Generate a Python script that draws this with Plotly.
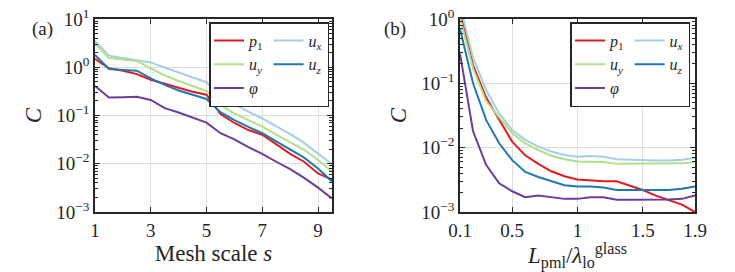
import plotly.graph_objects as go

# ---------------- data ----------------
s_vals = [1, 1.5, 2, 2.5, 3, 3.5, 4, 4.5, 5, 5.5, 6, 6.5, 7, 7.5, 8, 8.5, 9, 9.5]
a_p1 = [1.5, 0.95, 0.85, 0.72, 0.55, 0.45, 0.37, 0.31, 0.27, 0.107, 0.07, 0.05, 0.04, 0.025, 0.016, 0.011, 0.0063, 0.0047]
a_ux = [3.5, 1.74, 1.55, 1.41, 1.26, 0.98, 0.78, 0.62, 0.49, 0.245, 0.17, 0.12, 0.087, 0.06, 0.041, 0.027, 0.016, 0.0098]
a_uy = [3.1, 1.55, 1.45, 1.35, 0.95, 0.68, 0.52, 0.41, 0.32, 0.166, 0.11, 0.08, 0.059, 0.04, 0.028, 0.0195, 0.012, 0.0069]
a_uz = [1.8, 0.92, 0.88, 0.85, 0.59, 0.43, 0.33, 0.27, 0.22, 0.117, 0.08, 0.058, 0.043, 0.029, 0.02, 0.0134, 0.008, 0.0043]
a_phi = [0.41, 0.235, 0.24, 0.245, 0.21, 0.142, 0.115, 0.09, 0.071, 0.043, 0.032, 0.022, 0.016, 0.011, 0.0077, 0.0051, 0.0032, 0.0019]

L_vals = [0.1, 0.2, 0.3, 0.4, 0.5, 0.6, 0.7, 0.8, 0.9, 1.0, 1.1, 1.2, 1.3, 1.4, 1.5, 1.6, 1.7, 1.8, 1.9]
b_p1 = [1.4, 0.19, 0.06, 0.027, 0.0124, 0.0076, 0.0056, 0.0043, 0.0036, 0.0032, 0.0031, 0.003, 0.003, 0.0026, 0.0022, 0.0018, 0.00155, 0.0013, 0.001]
b_ux = [1.6, 0.25, 0.079, 0.034, 0.0188, 0.0132, 0.0104, 0.0087, 0.0077, 0.0072, 0.0074, 0.0072, 0.0066, 0.0065, 0.0063, 0.0063, 0.0063, 0.0065, 0.007]
b_uy = [1.05, 0.17, 0.053, 0.03, 0.0167, 0.0117, 0.0092, 0.0075, 0.0066, 0.0061, 0.006, 0.006, 0.0056, 0.0056, 0.0056, 0.0056, 0.0056, 0.0057, 0.006]
b_uz = [0.7, 0.1, 0.027, 0.0117, 0.0064, 0.0042, 0.0035, 0.003, 0.0026, 0.0025, 0.0025, 0.0024, 0.0022, 0.0022, 0.0022, 0.0022, 0.0022, 0.0023, 0.0025]
b_phi = [0.29, 0.018, 0.0054, 0.0028, 0.0021, 0.0017, 0.0018, 0.0017, 0.0016, 0.0016, 0.0017, 0.0017, 0.00155, 0.00155, 0.00155, 0.00155, 0.00157, 0.0016, 0.0018]

series_names = ["<i>p</i><sub>1</sub>", "<i>u<sub>x</sub></i>", "<i>u<sub>y</sub></i>",
                "<i>u<sub>z</sub></i>", "<i>φ</i>"]
series_colors = ["#e31a1c", "#a6cee3", "#b2df8a", "#1f78b4", "#6a3d9a"]
legend_columns = [1, 2, 1, 2, 1]

a_xticks = [1, 3, 5, 7, 9]
b_xticks = [0.1, 0.5, 1, 1.5, 1.9]
b_xticktext = ["0.1", "0.5", "1", "1.5", "1.9"]
a_yticks = [10, 1, 0.1, 0.01, 0.001]
a_yticktext = ["10<sup>1</sup>", "10<sup>0</sup>", "10<sup>−1</sup>", "10<sup>−2</sup>", "10<sup>−3</sup>"]
b_yticks = [1, 0.1, 0.01, 0.001]
b_yticktext = ["10<sup>0</sup>", "10<sup>−1</sup>", "10<sup>−2</sup>", "10<sup>−3</sup>"]

# ---------------- figure ----------------
W, H = 735, 272
FONT = "Liberation Serif"
FS = 19

fig = go.Figure()

a_series = [a_p1, a_ux, a_uy, a_uz, a_phi]
b_series = [b_p1, b_ux, b_uy, b_uz, b_phi]

for name, col, grp, ys in zip(series_names, series_colors, legend_columns, a_series):
    fig.add_trace(go.Scatter(x=s_vals, y=ys, mode="lines", name=name,
                             line=dict(color=col, width=2),
                             legendgroup=f"a{grp}", legend="legend",
                             xaxis="x", yaxis="y"))
for name, col, grp, ys in zip(series_names, series_colors, legend_columns, b_series):
    fig.add_trace(go.Scatter(x=L_vals, y=ys, mode="lines", name=name,
                             line=dict(color=col, width=2),
                             legendgroup=f"b{grp}", legend="legend2",
                             xaxis="x2", yaxis="y2"))

px = lambda v: v / W
py = lambda v: 1 - v / H

frame = dict(showline=True, linecolor="#262626", linewidth=1.5, mirror="ticks",
             ticks="inside", ticklen=5, tickcolor="#262626", tickwidth=1,
             showgrid=True, gridcolor="#dedede", gridwidth=1, zeroline=False,
             automargin=False,
             tickfont=dict(family=FONT, size=FS, color="#262626"))

ymin = dict(ticks="inside", ticklen=3, tickcolor="#262626", dtick="D1", showgrid=False)

leg = dict(xanchor="right", yanchor="top", orientation="h", bgcolor="white",
           bordercolor="#262626", borderwidth=1.5,
           font=dict(family=FONT, size=16, color="#262626"), tracegroupgap=0, itemwidth=30)

fig.update_layout(
    width=W, height=H, autosize=False,
    margin=dict(l=0, r=0, t=0, b=0, autoexpand=False),
    plot_bgcolor="white", paper_bgcolor="white",
    font=dict(family=FONT, size=FS, color="#262626"),
    xaxis=dict(domain=[px(95), px(332)], range=[1, 9.5], tickvals=a_xticks,
               title=dict(text="Mesh scale <i>s</i>", standoff=4), anchor="y", **frame),
    yaxis=dict(domain=[py(212), py(19)], type="log", range=[-3, 1],
               tickvals=a_yticks, ticktext=a_yticktext, minor=ymin,
               title=dict(text="<i>C</i>", standoff=8), anchor="x", **frame),
    xaxis2=dict(domain=[px(460), px(695)], range=[0.1, 1.9], tickvals=b_xticks,
                ticktext=b_xticktext,
                title=dict(text="<i>L</i><sub>pml</sub>/<i>λ</i><sub>lo</sub><sup>glass</sup>", standoff=0),
                anchor="y2", **frame),
    yaxis2=dict(domain=[py(212), py(19)], type="log", range=[-3, 0],
                tickvals=b_yticks, ticktext=b_yticktext, minor=ymin,
                title=dict(text="<i>C</i>", standoff=8), anchor="x2", **frame),
    legend=dict(x=px(329), y=py(22), **leg),
    legend2=dict(x=px(690), y=py(22), **leg),
    showlegend=True,
    annotations=[
        dict(text="(a)", x=px(30), y=py(16), xref="paper", yref="paper",
             showarrow=False, font=dict(family=FONT, size=FS)),
        dict(text="(b)", x=px(395), y=py(16), xref="paper", yref="paper",
             showarrow=False, font=dict(family=FONT, size=FS)),
    ],
)

fig.write_html("out.html", config={"displayModeBar": False},
               post_script="document.body.style.margin='0px';document.body.style.padding='0px';")
